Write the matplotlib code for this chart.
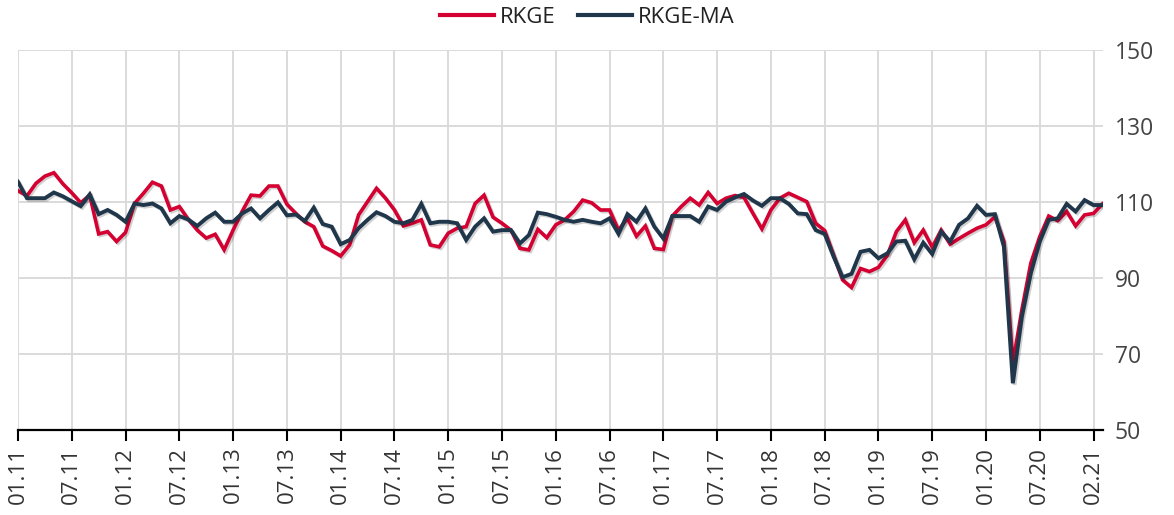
import matplotlib
matplotlib.use("Agg")
import matplotlib.pyplot as plt
import matplotlib.patheffects as pe

# RKGE index, monthly
rkge = [
    113.0, 111.6, 114.9, 116.8, 117.7, 114.8, 112.4, 109.8, 111.8, 101.6,
    102.2, 99.6, 102.0, 109.6, 112.3, 115.2, 114.2, 107.9, 108.8, 105.4,
    102.6, 100.5, 101.5, 97.4, 102.6, 107.5, 111.8, 111.6, 114.2, 114.2,
    109.4, 107.0, 104.8, 103.5, 98.4, 97.2, 95.8, 98.7, 106.6, 110.1,
    113.6, 111.0, 107.9, 103.7, 104.4, 105.3, 98.7, 98.2, 101.8, 103.1,
    103.5, 109.6, 111.8, 106.0, 104.4, 102.6, 97.8, 97.4, 102.8, 100.6,
    104.0, 105.3, 107.5, 110.5, 109.8, 107.9, 107.9, 102.6, 105.7, 101.0,
    103.7, 97.8, 97.5, 106.3, 108.8, 111.0, 109.2, 112.5, 109.6, 111.0,
    111.7, 111.2, 107.0, 102.9, 107.9, 111.0, 112.3, 111.2, 110.1, 104.4,
    102.5, 96.0, 89.5, 87.5, 92.5, 91.7, 92.8, 96.0, 102.2, 105.3,
    99.3, 102.6, 98.1, 102.6, 98.9, 100.4, 101.8, 103.1, 104.0, 106.1,
    99.6, 67.5, 81.6, 93.9, 100.9, 106.3, 105.1, 107.5, 103.7, 106.6,
    107.0, 109.5,
]

# RKGE moving average
rkge_ma = [
    115.3, 111.0, 111.0, 111.0, 112.5, 111.5, 110.2, 108.9, 112.0, 106.8,
    107.9, 106.6, 104.8, 109.6, 109.2, 109.6, 108.3, 104.4, 106.3, 105.4,
    103.7, 105.7, 107.2, 104.8, 104.8, 107.0, 108.3, 105.7, 107.9, 109.9,
    106.5, 106.7, 105.0, 108.5, 104.2, 103.5, 98.9, 100.0, 103.1, 105.3,
    107.3, 106.3, 104.8, 104.4, 105.3, 109.5, 104.4, 104.8, 104.8, 104.4,
    100.0, 103.5, 105.7, 102.2, 102.6, 102.6, 99.1, 101.3, 107.2, 106.8,
    106.1, 105.3, 104.8, 105.3, 104.8, 104.4, 105.7, 101.6, 106.8, 104.8,
    108.3, 103.5, 100.4, 106.3, 106.3, 106.3, 104.8, 108.8, 107.9, 110.1,
    111.2, 112.1, 110.4, 109.0, 111.0, 111.0, 109.5, 107.0, 106.8, 102.6,
    101.6, 95.6, 90.2, 91.1, 96.9, 97.4, 95.2, 96.5, 99.6, 99.8,
    94.9, 99.3, 96.3, 102.2, 99.6, 104.0, 105.7, 109.0, 106.6, 106.8,
    98.2, 62.3, 79.8, 91.2, 99.6, 105.3, 105.7, 109.5, 107.5, 110.5,
    109.2, 109.2,
]

tick_labels = [
    "01.11", "07.11", "01.12", "07.12", "01.13", "07.13", "01.14",
    "07.14", "01.15", "07.15", "01.16", "07.16", "01.17", "07.17",
    "01.18", "07.18", "01.19", "07.19", "01.20", "07.20", "02.21",
]
y_ticks = [50, 70, 90, 110, 130, 150]

plt.rcParams["font.family"] = ["Open Sans", "DejaVu Sans"]

fig = plt.figure(figsize=(11.74, 5.15), dpi=100)
ax = fig.add_axes([18 / 1174, 1 - 430 / 515, (1102.5 - 18) / 1174, 380 / 515])

x = list(range(len(rkge)))
shadow = [pe.SimpleLineShadow(offset=(1.2, -1.2), shadow_color="black", alpha=0.18), pe.Normal()]
ax.plot(x, rkge, color="#d50032", lw=2.6, label="RKGE", path_effects=shadow,
        solid_joinstyle="miter", zorder=3)
ax.plot(x, rkge_ma, color="#1f364b", lw=2.8, label="RKGE-MA", path_effects=shadow,
        solid_joinstyle="miter", zorder=4)

ax.set_xlim(0, len(rkge) - 1)
ax.set_ylim(50, 150)
ax.set_xticks(range(0, 6 * len(tick_labels), 6))
ax.set_xticklabels(tick_labels, rotation=90, fontsize=16, color="#333333")
ax.set_yticks(y_ticks)
ax.set_yticklabels([str(v) for v in y_ticks], fontsize=16.5, color="#444444")

ax.yaxis.tick_right()
ax.tick_params(axis="y", length=0, pad=9)
ax.tick_params(axis="x", length=8, width=1.5, color="black", pad=4)

for s in ["top", "left", "right"]:
    ax.spines[s].set_visible(False)
ax.spines["bottom"].set_linewidth(1.6)
ax.spines["bottom"].set_color("black")
ax.spines["bottom"].set_zorder(5)

ax.grid(True, color="#dadada", lw=1.4)
ax.set_axisbelow(True)

leg = fig.legend(loc="upper center", bbox_to_anchor=(0.5, 1.025), ncol=2, frameon=False,
                 fontsize=16, handlelength=2.45, handletextpad=0.25, columnspacing=1.0)
for t in leg.get_texts():
    t.set_color("#222222")
for h in leg.legend_handles:
    h.set_linewidth(3)
    h.set_path_effects([])

fig.savefig("out.png", dpi=100)
